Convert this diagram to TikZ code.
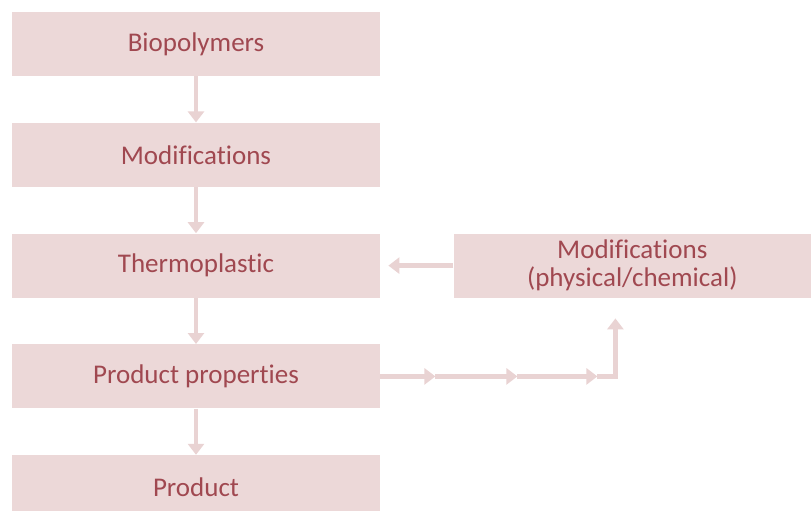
\documentclass[tikz,border=0pt]{standalone}
\usepackage{fontspec}
\setmainfont[Ligatures=NoCommon]{Carlito}
\usetikzlibrary{arrows.meta, positioning, calc}

\definecolor{caixafill}{HTML}{ECD8D8}
\definecolor{setacor}{HTML}{E9D3D3}
\definecolor{textocor}{HTML}{A04850}

\begin{document}
\begin{tikzpicture}[
    font=\fontsize{13.5pt}{14pt}\selectfont,
    node distance=23pt,
    caixa/.style={rectangle, fill=caixafill, text=textocor, minimum width=184pt, minimum height=32pt, inner sep=0pt, align=center},
    seta/.style={draw=setacor, line width=2.2pt, -{Triangle[length=5.5pt, width=8pt]}}
]
    \useasboundingbox (-98pt,22pt) rectangle ++(406pt,-255pt);

    \node[caixa] (bio) at (0,0) {Biopolymers};
    \node[caixa, below=of bio] (modif) {Modifications};
    \node[caixa, below=of modif] (thermo) {Thermoplastic};
    \node[caixa, below=of thermo] (props) {Product properties};
    \node[caixa, below=of props] (produto) {Product};
    \node[caixa, right=36.5pt of thermo, minimum width=178.5pt] (fisquim) {Modifications\\(physical/chemical)};

    \coordinate (entrada) at ($(thermo.east)+(4pt,0)$);
    \coordinate (m1) at ($(props.east)+(27.5pt,0)$);
    \coordinate (m2) at ($(props.east)+(68.5pt,0)$);
    \coordinate (m3) at ($(props.east)+(108.5pt,0)$);
    \coordinate (canto) at ($(props.east)+(117.5pt,0)$);
    \coordinate (topo) at ($(canto)+(0,29pt)$);

    \draw[seta] (bio) -- (modif);
    \draw[seta] (modif) -- (thermo);
    \draw[seta] (thermo) -- (props);
    \draw[seta] (props) -- (produto);
    \draw[seta] (fisquim.west) -- (entrada);

    \draw[seta] (props.east) -- (m1);
    \draw[seta] (m1) -- (m2);
    \draw[seta] (m2) -- (m3);
    \draw[seta] (m3) -- (canto) -- (topo);
\end{tikzpicture}
\end{document}
